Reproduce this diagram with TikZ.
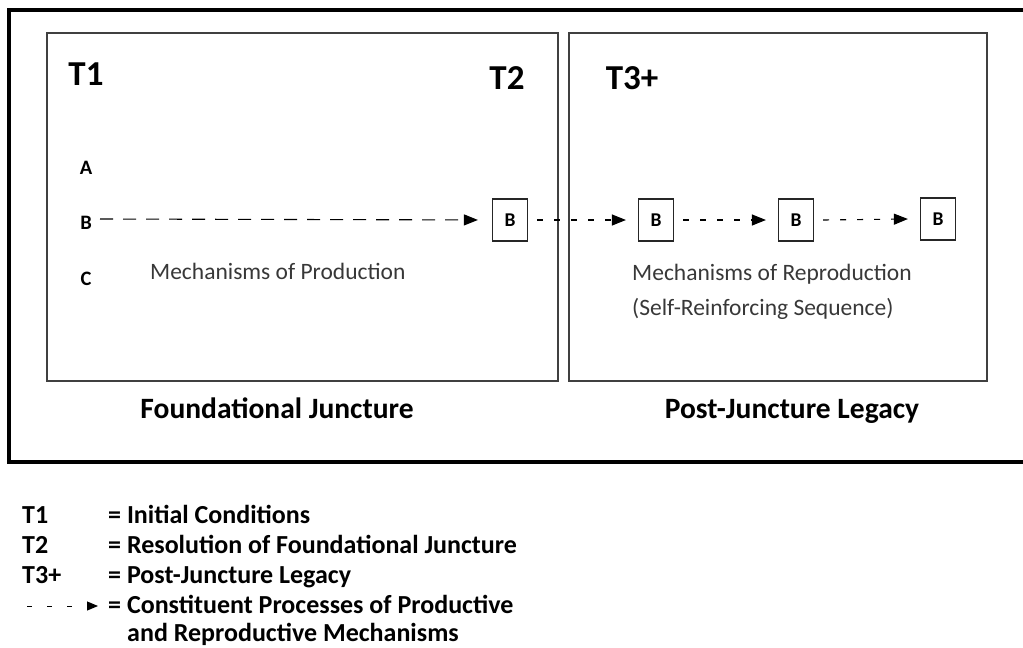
\documentclass[tikz,border=0pt]{standalone}
\usepackage{fontspec}
\setmainfont{Carlito}
\usetikzlibrary{arrows.meta}
\begin{document}
\begin{tikzpicture}[x=1pt,y=-1pt,
  panel/.style={draw=black!75,line width=1.3pt},
  bbox/.style={draw=black!85,line width=1.2pt,minimum width=35pt,minimum height=42pt,inner sep=0pt,font=\fontsize{19.5}{22}\selectfont\bfseries},
  tlabel/.style={font=\fontsize{35}{40}\selectfont\bfseries,inner sep=0pt,anchor=base},
  letter/.style={font=\fontsize{20.5}{24}\selectfont\bfseries,inner sep=0pt},
  mech/.style={font=\fontsize{23.5}{28}\selectfont,text=black!78,inner sep=0pt,anchor=base west},
  captxt/.style={font=\fontsize{29.5}{34}\selectfont\bfseries,inner sep=0pt,anchor=base},
  leg/.style={font=\fontsize{26}{30}\selectfont\bfseries,inner sep=0pt,anchor=base west},
  arr/.style={line width=1.1pt,-{Triangle[length=14pt,width=11pt]}},
  longdash/.style={dash pattern=on 13pt off 10pt},
  shortdash/.style={dash pattern=on 6pt off 11pt}]
\useasboundingbox (0,0) rectangle (1023,648);
\clip (0,0) rectangle (1023,648);
% outer frame
\draw[line width=4pt] (9,10) rectangle (1040,462);
% panels
\draw[panel] (47,33) rectangle (558,381);
\draw[panel] (569,33) rectangle (987,381);
% T labels
\node[tlabel] (t1) at (86,85) {T1};
\node[tlabel] (t2) at (507,89) {T2};
\node[tlabel] (t3) at (632,89) {T3+};
% letters
\node[letter] (la) at (86,168) {A};
\node[letter] (lb) at (86,223) {B};
\node[letter] (lc) at (86,279) {C};
% B boxes
\node[bbox] (b1) at (510,220) {B};
\node[bbox] (b2) at (656,220) {B};
\node[bbox] (b3) at (796,220) {B};
\node[bbox] (b4) at (938,219) {B};
% arrows
\coordinate (s0) at (100,219);
\draw[arr,longdash,shorten >=14pt] (s0) -- (b1.west);
\draw[arr,shortdash] ([xshift=9pt]b1.east) -- ([xshift=-12pt]b2.west);
\draw[arr,shortdash] ([xshift=9pt]b2.east) -- ([xshift=-12pt]b3.west);
\draw[arr,shortdash] ([xshift=9pt]b3.east) -- ([xshift=-12pt]b4.west);
% mechanisms
\node[mech] (mp) at (150,279) {Mechanisms of Production};
\node[mech] (mr) at (632,280) {Mechanisms of Reproduction};
\node[mech] (ms) at (632,315) {(Self-Reinforcing Sequence)};
% captions
\node[captxt] (fj) at (277,418) {Foundational Juncture};
\node[captxt] (pj) at (792,418) {Post-Juncture Legacy};
% legend
\node[leg] (lt1) at (22,523) {T1};
\node[leg] (lt2) at (22,553) {T2};
\node[leg] (lt3) at (22,583) {T3+};
\coordinate (la0) at (27,606);
\coordinate (la1) at (98,606);
\draw[line width=1pt,dash pattern=on 5pt off 15pt,-{Triangle[length=11pt,width=9pt]}] (la0) -- (la1);
\node[leg] (d1) at (108,523) {= Initial Conditions};
\node[leg] (d2) at (108,553) {= Resolution of Foundational Juncture};
\node[leg] (d3) at (108,583) {= Post-Juncture Legacy};
\node[leg] (d4) at (108,613) {= Constituent Processes of Productive};
\node[leg] (d5) at (127,641) {and Reproductive Mechanisms};
\end{tikzpicture}
\end{document}
